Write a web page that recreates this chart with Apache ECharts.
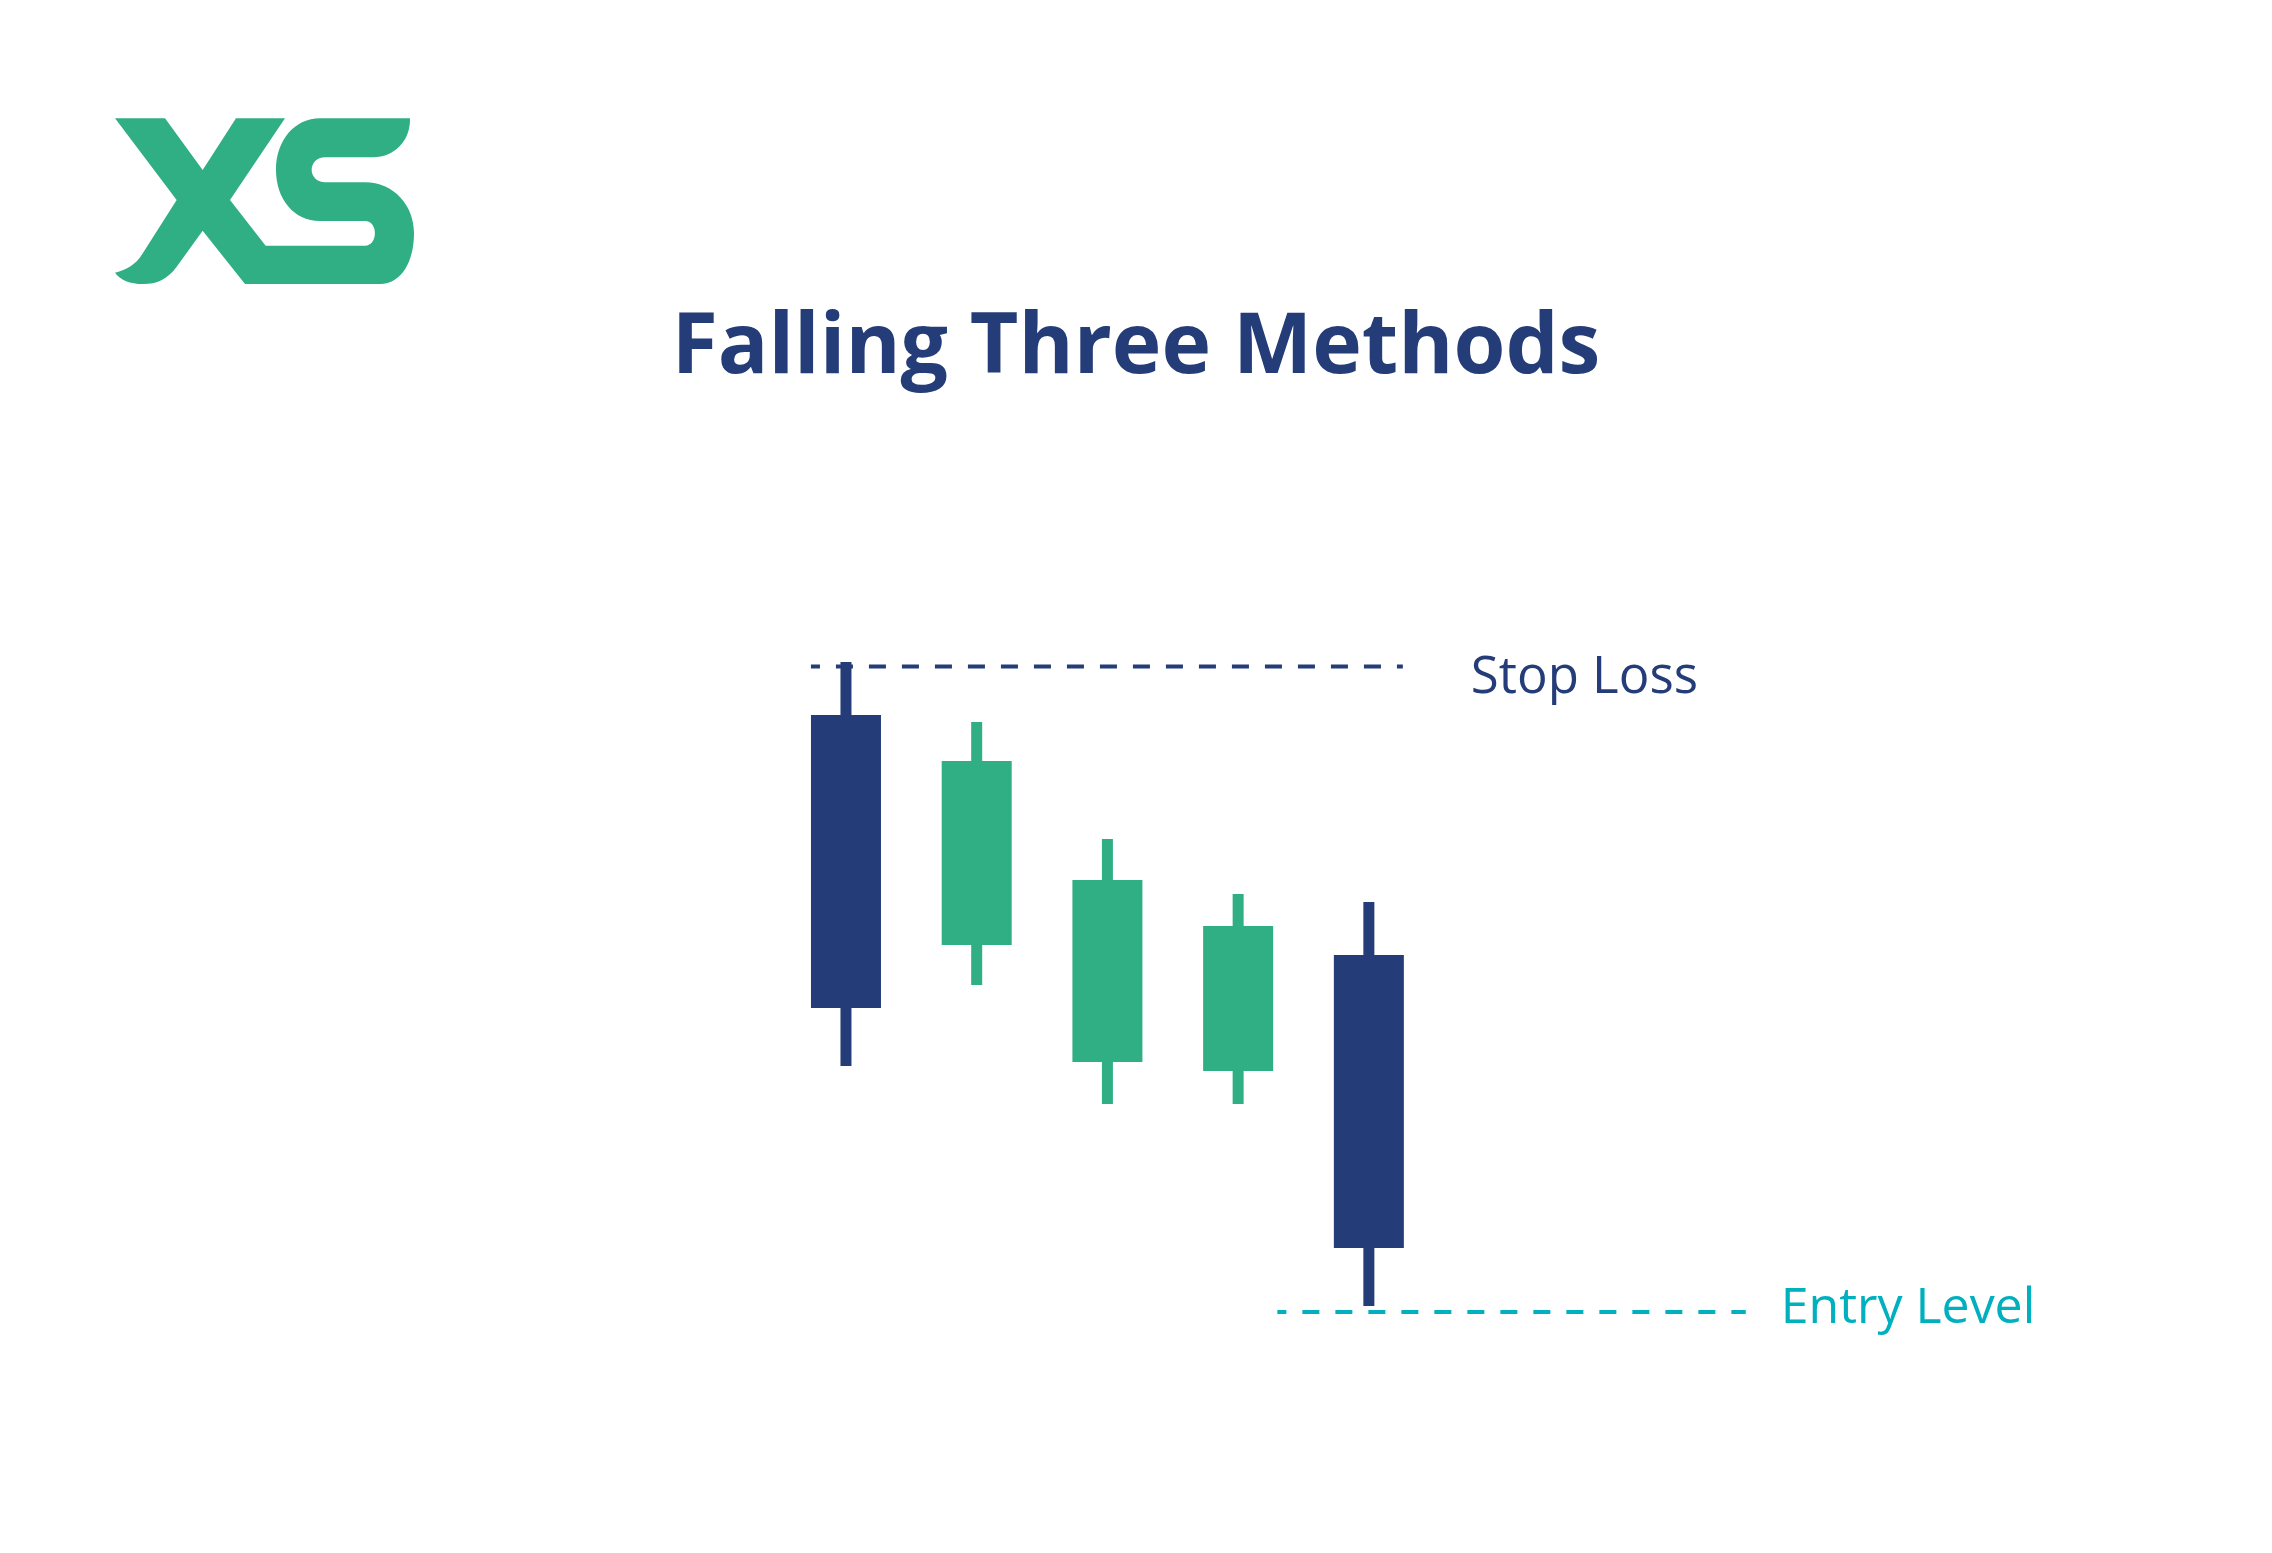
<!DOCTYPE html>
<html>
<head>
<meta charset="utf-8">
<title>Falling Three Methods</title>
<script src="https://cdn.jsdelivr.net/npm/echarts@6/dist/echarts.min.js"></script>
<style>
  html, body { margin: 0; padding: 0; background: #ffffff; }
  #chart { width: 2272px; height: 1553px; }
</style>
</head>
<body>
<div id="chart"></div>
<script>
// ---- data ----
const categories = ['Day 1', 'Day 2', 'Day 3', 'Day 4', 'Day 5'];
const opens  = [114.25, 102.75, 96.9, 96.45, 102.25];
const closes = [99.6, 111.95, 106.0, 103.7, 87.6];
const lows   = [96.7, 100.75, 94.8, 94.8, 84.7];
const highs  = [116.9, 113.9, 108.05, 105.3, 104.9];

const levelNames  = ['Stop Loss', 'Entry Level'];
const levelValues = [116.68, 84.4];
const levelStart  = [-0.268, 3.3];   // in candle-index units
const levelEnd    = [4.26, 6.883];

const titleText = 'Falling Three Methods';

// ---- styles ----
const NAVY = '#243c77';
const GREEN = '#30ae84';
const CYAN = '#00b0be';
const BODY_W = 70;
const WICK_W = 11;

const LOGO = 'M105,115 L255,115 L368,270 L468,115 L615,115 L450,360 L557,497 L855,497 ' +
  'C895,497 895,423 855,423 L720,423 C640,423 588,355 588,270 C588,180 645,115 720,115 ' +
  'L990,115 C992,185 940,232 880,232 L735,232 C710,232 695,250 695,270 C695,290 712,307 735,307 ' +
  'L855,307 C940,307 1002,375 1002,460 C1002,545 965,612 900,612 L495,612 L368,452 L290,560 ' +
  'C262,598 230,612 190,612 C150,612 120,600 105,578 C140,570 168,552 185,525 L290,360 Z';

const LogoShape = echarts.graphic.extendPath(LOGO, {});
echarts.graphic.registerShape('xsLogo', LogoShape);

const candleData = categories.map((c, i) => [i, opens[i], closes[i], lows[i], highs[i]]);

const levelSeries = levelNames.map((name, k) => ({
  name: name,
  type: 'line',
  data: [[levelStart[k], levelValues[k]], [levelEnd[k], levelValues[k]]],
  showSymbol: false,
  symbol: 'none',
  silent: true,
  z: 3,
  lineStyle: {
    color: k === 0 ? NAVY : CYAN,
    width: 4,
    type: [17, 16],
    dashOffset: 8,
    cap: 'butt'
  },
  endLabel: {
    show: true,
    formatter: name,
    position: 'right',
    distance: k === 0 ? 68 : 35,
    offset: k === 0 ? [0, 12] : [0, -3],
    color: k === 0 ? NAVY : CYAN,
    fontFamily: 'Open Sans',
    fontSize: k === 0 ? 51 : 50,
    fontWeight: 500
  }
}));

const chart = echarts.init(document.getElementById('chart'), null, { renderer: 'canvas' });

chart.setOption({
  animation: false,
  backgroundColor: '#ffffff',
  title: {
    text: titleText,
    left: 'center',
    top: 302,
    textStyle: {
      color: NAVY,
      fontFamily: 'Open Sans',
      fontWeight: 'bold',
      fontSize: 84
    }
  },
  graphic: [{
    type: 'xsLogo',
    x: 80, y: 80,
    scaleX: 1 / 3, scaleY: 1 / 3,
    silent: true,
    style: { fill: GREEN }
  }],
  grid: { left: 715.25, right: 380.25, top: 600, bottom: 153 },
  xAxis: {
    type: 'value',
    min: -1, max: 8,
    show: false
  },
  yAxis: {
    type: 'value',
    min: 80, max: 120,
    show: false
  },
  series: [{
    name: 'Price',
    type: 'custom',
    clip: false,
    z: 2,
    data: candleData,
    encode: { x: 0, y: [1, 2, 3, 4] },
    renderItem: function (params, api) {
      const x = api.value(0);
      const o = api.value(1), c = api.value(2), lo = api.value(3), hi = api.value(4);
      const pHi = api.coord([x, hi]);
      const pLo = api.coord([x, lo]);
      const pO = api.coord([x, o]);
      const pC = api.coord([x, c]);
      const color = c < o ? NAVY : GREEN;
      return {
        type: 'group',
        children: [
          { type: 'rect', shape: { x: pHi[0] - WICK_W / 2, y: pHi[1], width: WICK_W, height: pLo[1] - pHi[1] }, style: { fill: color } },
          { type: 'rect', shape: { x: pO[0] - BODY_W / 2, y: Math.min(pO[1], pC[1]), width: BODY_W, height: Math.abs(pC[1] - pO[1]) }, style: { fill: color } }
        ]
      };
    }
  }].concat(levelSeries)
});
</script>
</body>
</html>
